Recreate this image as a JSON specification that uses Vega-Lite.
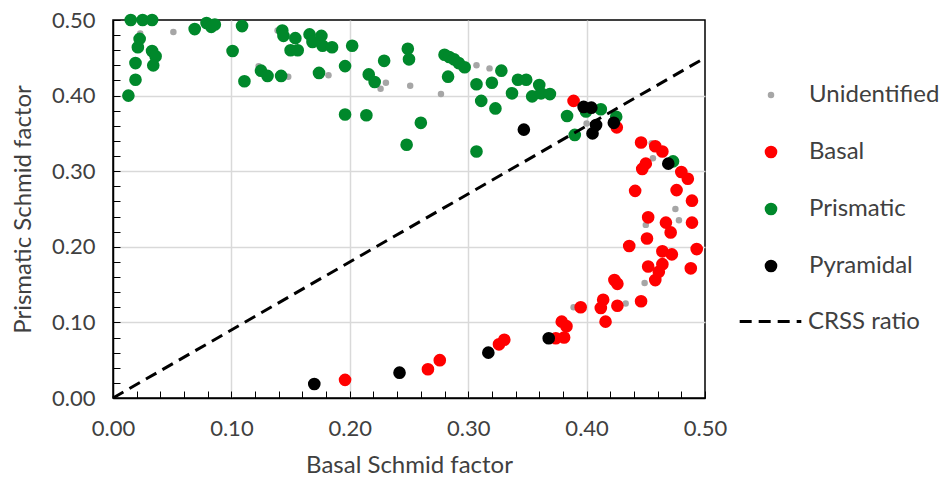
{
  "$schema": "https://vega.github.io/schema/vega-lite/v6.json",
  "width": 592,
  "height": 378,
  "autosize": {"type": "none"},
  "padding": {"left": 113, "top": 20, "right": 238, "bottom": 82},
  "background": "white",
  "config": {
    "font": "Lato",
    "view": {"stroke": "black", "strokeWidth": 1.5},
    "axis": {
      "domainColor": "black",
      "domainWidth": 1.5,
      "tickColor": "black",
      "tickWidth": 1,
      "tickSize": -7,
      "labelFont": "Lato",
      "labelFontSize": 22,
      "labelColor": "#404040",
      "titleFont": "Lato",
      "titleFontSize": 24,
      "titleFontWeight": "normal",
      "titleColor": "#404040",
      "gridColor": "#d9d9d9",
      "gridWidth": 1.5
    },
    "legend": {
      "labelFont": "Lato",
      "labelFontSize": 24,
      "labelColor": "#404040",
      "padding": 0
    }
  },
  "encoding": {
    "x": {
      "field": "x",
      "type": "quantitative",
      "scale": {"domain": [0, 0.5], "nice": false, "zero": false},
      "axis": {
        "title": "Basal Schmid factor",
        "values": [0,0.02,0.04,0.06,0.08,0.1,0.12,0.14,0.16,0.18,0.2,0.22,0.24,0.26,0.28,0.3,0.32,0.34,0.36,0.38,0.4,0.42,0.44,0.46,0.48,0.5],
        "labelExpr": "round(datum.value*100) % 10 == 0 ? format(datum.value, '.2f') : ''",
        "gridOpacity": {"condition": {"test": "round(datum.value*100) % 10 == 0 && datum.value > 0.001 && datum.value < 0.499", "value": 1}, "value": 0},
        "labelPadding": 27,
        "titlePadding": 14,
        "labelFlush": false,
        "labelOverlap": false
      }
    },
    "y": {
      "field": "y",
      "type": "quantitative",
      "scale": {"domain": [0, 0.5], "nice": false, "zero": false},
      "axis": {
        "title": "Prismatic Schmid factor",
        "values": [0,0.02,0.04,0.06,0.08,0.1,0.12,0.14,0.16,0.18,0.2,0.22,0.24,0.26,0.28,0.3,0.32,0.34,0.36,0.38,0.4,0.42,0.44,0.46,0.48,0.5],
        "labelExpr": "round(datum.value*100) % 10 == 0 ? format(datum.value, '.2f') : ''",
        "gridOpacity": {"condition": {"test": "round(datum.value*100) % 10 == 0 && datum.value > 0.001 && datum.value < 0.499", "value": 1}, "value": 0},
        "labelPadding": 25,
        "titlePadding": 16,
        "labelFlush": false,
        "labelOverlap": false
      }
    }
  },
  "layer": [
    {
      "data": {
        "values": [
          {"mode": "Unidentified", "x": 0.023, "y": 0.482},
          {"mode": "Unidentified", "x": 0.051, "y": 0.484},
          {"mode": "Unidentified", "x": 0.123, "y": 0.439},
          {"mode": "Unidentified", "x": 0.139, "y": 0.486},
          {"mode": "Unidentified", "x": 0.148, "y": 0.425},
          {"mode": "Unidentified", "x": 0.182, "y": 0.427},
          {"mode": "Unidentified", "x": 0.226, "y": 0.409},
          {"mode": "Unidentified", "x": 0.2305, "y": 0.417},
          {"mode": "Unidentified", "x": 0.251, "y": 0.413},
          {"mode": "Unidentified", "x": 0.277, "y": 0.402},
          {"mode": "Unidentified", "x": 0.307, "y": 0.44},
          {"mode": "Unidentified", "x": 0.318, "y": 0.436},
          {"mode": "Unidentified", "x": 0.4, "y": 0.363},
          {"mode": "Unidentified", "x": 0.455, "y": 0.337},
          {"mode": "Unidentified", "x": 0.456, "y": 0.317},
          {"mode": "Unidentified", "x": 0.475, "y": 0.25},
          {"mode": "Unidentified", "x": 0.478, "y": 0.235},
          {"mode": "Unidentified", "x": 0.45, "y": 0.229},
          {"mode": "Unidentified", "x": 0.449, "y": 0.152},
          {"mode": "Unidentified", "x": 0.433, "y": 0.125},
          {"mode": "Unidentified", "x": 0.389, "y": 0.12},
          {"mode": "Basal", "x": 0.389, "y": 0.393},
          {"mode": "Basal", "x": 0.4255, "y": 0.358},
          {"mode": "Basal", "x": 0.446, "y": 0.338},
          {"mode": "Basal", "x": 0.458, "y": 0.333},
          {"mode": "Basal", "x": 0.464, "y": 0.326},
          {"mode": "Basal", "x": 0.45, "y": 0.31},
          {"mode": "Basal", "x": 0.447, "y": 0.303},
          {"mode": "Basal", "x": 0.48, "y": 0.299},
          {"mode": "Basal", "x": 0.4855, "y": 0.29},
          {"mode": "Basal", "x": 0.476, "y": 0.275},
          {"mode": "Basal", "x": 0.441, "y": 0.274},
          {"mode": "Basal", "x": 0.489, "y": 0.261},
          {"mode": "Basal", "x": 0.452, "y": 0.239},
          {"mode": "Basal", "x": 0.467, "y": 0.232},
          {"mode": "Basal", "x": 0.471, "y": 0.219},
          {"mode": "Basal", "x": 0.489, "y": 0.232},
          {"mode": "Basal", "x": 0.451, "y": 0.211},
          {"mode": "Basal", "x": 0.436, "y": 0.201},
          {"mode": "Basal", "x": 0.464, "y": 0.194},
          {"mode": "Basal", "x": 0.472, "y": 0.19},
          {"mode": "Basal", "x": 0.493, "y": 0.197},
          {"mode": "Basal", "x": 0.464, "y": 0.177},
          {"mode": "Basal", "x": 0.452, "y": 0.174},
          {"mode": "Basal", "x": 0.488, "y": 0.1715},
          {"mode": "Basal", "x": 0.461, "y": 0.167},
          {"mode": "Basal", "x": 0.458, "y": 0.156},
          {"mode": "Basal", "x": 0.4235, "y": 0.156},
          {"mode": "Basal", "x": 0.426, "y": 0.151},
          {"mode": "Basal", "x": 0.446, "y": 0.128},
          {"mode": "Basal", "x": 0.426, "y": 0.122},
          {"mode": "Basal", "x": 0.414, "y": 0.13},
          {"mode": "Basal", "x": 0.412, "y": 0.119},
          {"mode": "Basal", "x": 0.416, "y": 0.101},
          {"mode": "Basal", "x": 0.395, "y": 0.12},
          {"mode": "Basal", "x": 0.379, "y": 0.101},
          {"mode": "Basal", "x": 0.383, "y": 0.095},
          {"mode": "Basal", "x": 0.381, "y": 0.08},
          {"mode": "Basal", "x": 0.374, "y": 0.079},
          {"mode": "Basal", "x": 0.3305, "y": 0.077},
          {"mode": "Basal", "x": 0.326, "y": 0.071},
          {"mode": "Basal", "x": 0.276, "y": 0.05},
          {"mode": "Basal", "x": 0.266, "y": 0.038},
          {"mode": "Basal", "x": 0.196, "y": 0.024},
          {"mode": "Prismatic", "x": 0.015, "y": 0.5},
          {"mode": "Prismatic", "x": 0.025, "y": 0.5},
          {"mode": "Prismatic", "x": 0.033, "y": 0.5},
          {"mode": "Prismatic", "x": 0.0225, "y": 0.475},
          {"mode": "Prismatic", "x": 0.021, "y": 0.464},
          {"mode": "Prismatic", "x": 0.019, "y": 0.443},
          {"mode": "Prismatic", "x": 0.019, "y": 0.421},
          {"mode": "Prismatic", "x": 0.013, "y": 0.4},
          {"mode": "Prismatic", "x": 0.033, "y": 0.459},
          {"mode": "Prismatic", "x": 0.036, "y": 0.452},
          {"mode": "Prismatic", "x": 0.034, "y": 0.44},
          {"mode": "Prismatic", "x": 0.069, "y": 0.488},
          {"mode": "Prismatic", "x": 0.079, "y": 0.496},
          {"mode": "Prismatic", "x": 0.083, "y": 0.491},
          {"mode": "Prismatic", "x": 0.086, "y": 0.494},
          {"mode": "Prismatic", "x": 0.101, "y": 0.459},
          {"mode": "Prismatic", "x": 0.109, "y": 0.492},
          {"mode": "Prismatic", "x": 0.111, "y": 0.419},
          {"mode": "Prismatic", "x": 0.143, "y": 0.486},
          {"mode": "Prismatic", "x": 0.144, "y": 0.479},
          {"mode": "Prismatic", "x": 0.154, "y": 0.476},
          {"mode": "Prismatic", "x": 0.15, "y": 0.46},
          {"mode": "Prismatic", "x": 0.156, "y": 0.46},
          {"mode": "Prismatic", "x": 0.166, "y": 0.481},
          {"mode": "Prismatic", "x": 0.1685, "y": 0.471},
          {"mode": "Prismatic", "x": 0.176, "y": 0.479},
          {"mode": "Prismatic", "x": 0.177, "y": 0.466},
          {"mode": "Prismatic", "x": 0.185, "y": 0.464},
          {"mode": "Prismatic", "x": 0.202, "y": 0.466},
          {"mode": "Prismatic", "x": 0.125, "y": 0.433},
          {"mode": "Prismatic", "x": 0.1305, "y": 0.426},
          {"mode": "Prismatic", "x": 0.142, "y": 0.426},
          {"mode": "Prismatic", "x": 0.174, "y": 0.43},
          {"mode": "Prismatic", "x": 0.196, "y": 0.439},
          {"mode": "Prismatic", "x": 0.216, "y": 0.428},
          {"mode": "Prismatic", "x": 0.221, "y": 0.418},
          {"mode": "Prismatic", "x": 0.229, "y": 0.446},
          {"mode": "Prismatic", "x": 0.196, "y": 0.375},
          {"mode": "Prismatic", "x": 0.214, "y": 0.374},
          {"mode": "Prismatic", "x": 0.248, "y": 0.335},
          {"mode": "Prismatic", "x": 0.249, "y": 0.462},
          {"mode": "Prismatic", "x": 0.25, "y": 0.448},
          {"mode": "Prismatic", "x": 0.28, "y": 0.454},
          {"mode": "Prismatic", "x": 0.284, "y": 0.451},
          {"mode": "Prismatic", "x": 0.288, "y": 0.448},
          {"mode": "Prismatic", "x": 0.292, "y": 0.443},
          {"mode": "Prismatic", "x": 0.297, "y": 0.4375},
          {"mode": "Prismatic", "x": 0.283, "y": 0.425},
          {"mode": "Prismatic", "x": 0.307, "y": 0.415},
          {"mode": "Prismatic", "x": 0.32, "y": 0.417},
          {"mode": "Prismatic", "x": 0.328, "y": 0.433},
          {"mode": "Prismatic", "x": 0.311, "y": 0.393},
          {"mode": "Prismatic", "x": 0.323, "y": 0.383},
          {"mode": "Prismatic", "x": 0.342, "y": 0.421},
          {"mode": "Prismatic", "x": 0.349, "y": 0.421},
          {"mode": "Prismatic", "x": 0.337, "y": 0.403},
          {"mode": "Prismatic", "x": 0.36, "y": 0.414},
          {"mode": "Prismatic", "x": 0.354, "y": 0.399},
          {"mode": "Prismatic", "x": 0.3615, "y": 0.403},
          {"mode": "Prismatic", "x": 0.369, "y": 0.402},
          {"mode": "Prismatic", "x": 0.26, "y": 0.364},
          {"mode": "Prismatic", "x": 0.307, "y": 0.326},
          {"mode": "Prismatic", "x": 0.412, "y": 0.382},
          {"mode": "Prismatic", "x": 0.3995, "y": 0.379},
          {"mode": "Prismatic", "x": 0.3835, "y": 0.373},
          {"mode": "Prismatic", "x": 0.39, "y": 0.348},
          {"mode": "Prismatic", "x": 0.425, "y": 0.372},
          {"mode": "Prismatic", "x": 0.473, "y": 0.313},
          {"mode": "Pyramidal", "x": 0.347, "y": 0.355},
          {"mode": "Pyramidal", "x": 0.3975, "y": 0.385},
          {"mode": "Pyramidal", "x": 0.404, "y": 0.384},
          {"mode": "Pyramidal", "x": 0.408, "y": 0.361},
          {"mode": "Pyramidal", "x": 0.405, "y": 0.35},
          {"mode": "Pyramidal", "x": 0.423, "y": 0.364},
          {"mode": "Pyramidal", "x": 0.469, "y": 0.31},
          {"mode": "Pyramidal", "x": 0.368, "y": 0.079},
          {"mode": "Pyramidal", "x": 0.317, "y": 0.06},
          {"mode": "Pyramidal", "x": 0.242, "y": 0.0335},
          {"mode": "Pyramidal", "x": 0.17, "y": 0.0185}
        ]
      },
      "mark": {"type": "circle", "opacity": 1},
      "encoding": {
        "color": {
          "field": "mode",
          "type": "nominal",
          "scale": {"domain": ["Unidentified", "Basal", "Prismatic", "Pyramidal"], "range": ["#a6a6a6", "#ff0000", "#00882b", "#000000"]},
          "legend": {"title": null, "orient": "none", "legendX": 646, "legendY": 63, "rowPadding": 33, "labelOffset": 26, "symbolOpacity": 1}
        },
        "size": {
          "field": "mode",
          "type": "nominal",
          "scale": {"type": "ordinal", "domain": ["Unidentified", "Basal", "Prismatic", "Pyramidal"], "range": [42, 160, 160, 160]},
          "legend": {"title": null, "orient": "none", "legendX": 646, "legendY": 63, "rowPadding": 33, "labelOffset": 26, "symbolOpacity": 1}
        }
      }
    },
    {
      "data": {"values": [{"x": 0, "y": 0, "s": "CRSS ratio"}, {"x": 0.5, "y": 0.45, "s": "CRSS ratio"}]},
      "mark": {"type": "line", "color": "black", "strokeWidth": 3},
      "encoding": {
        "strokeDash": {
          "field": "s",
          "type": "nominal",
          "scale": {"domain": ["CRSS ratio"], "range": [[12, 7]]},
          "legend": {"title": null, "orient": "none", "legendX": 625, "legendY": 269, "symbolSize": 3800, "symbolStrokeWidth": 3, "symbolStrokeColor": "black", "labelOffset": 5}
        }
      }
    }
  ]
}
